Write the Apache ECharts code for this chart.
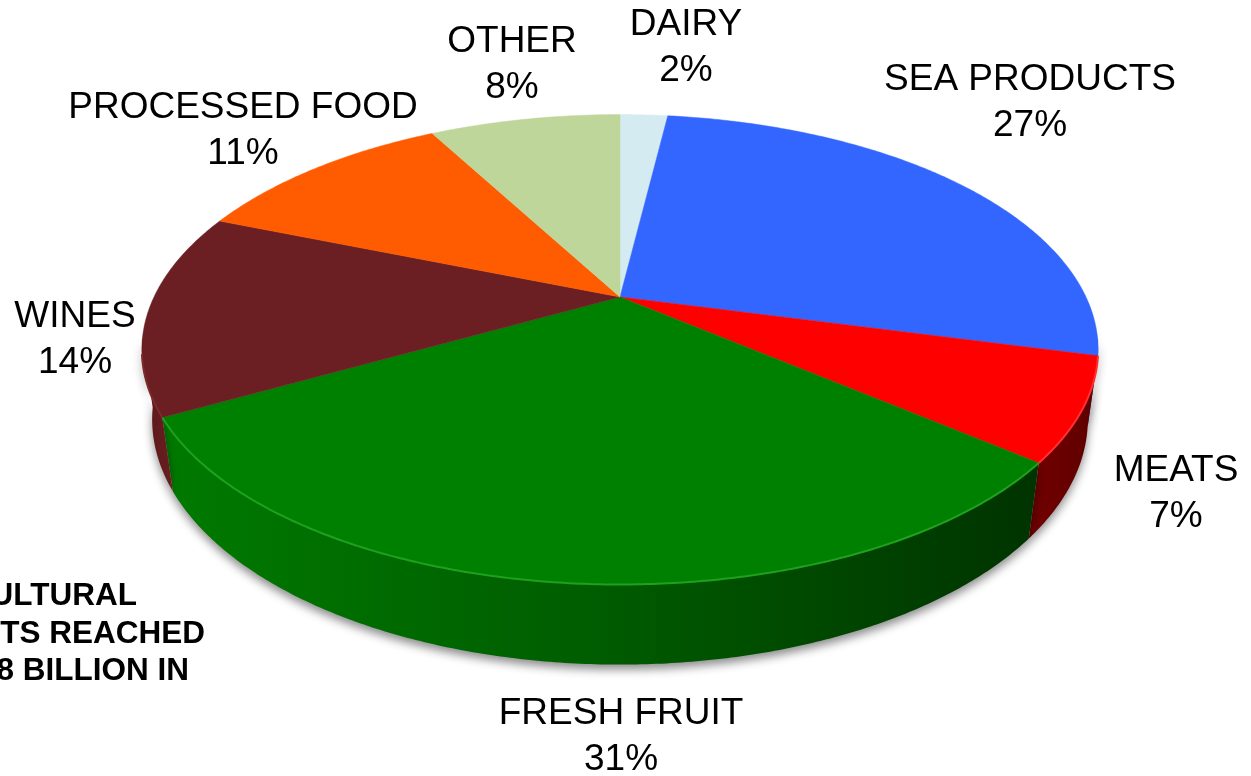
<!DOCTYPE html>
<html>
<head>
<meta charset="utf-8">
<script src="https://cdn.jsdelivr.net/npm/echarts@6/dist/echarts.min.js"></script>
<style>
  html, body { margin: 0; padding: 0; background: #ffffff; }
  #chart { width: 1251px; height: 776px; }
</style>
</head>
<body>
<div id="chart"></div>
<script>
// Export shares by product group (percent)
const categories = ['DAIRY', 'SEA PRODUCTS', 'MEATS', 'FRESH FRUIT', 'WINES', 'PROCESSED FOOD', 'OTHER'];
const shares = [2, 27, 7, 31, 14, 11, 8];

// Slice colours: top face, outer wall, rim highlight
const topColors = ['#d4ecf1', '#3366ff', '#ff0000', '#008000', '#6b1f22', '#ff5b00', '#bfd69b'];
const wallColors = [
  '#9fc0c6', '#1f3fa8',
  ['#720000', '#5e0000'],
  ['#007a00', '#005c00', '#003300'],
  ['#5a1719', '#6a1e21'],
  '#b33f00', '#8fa070'
];
const rimColors = [null, null, '#ff3030', '#1fa01f', '#7d2a2d', null, null];

// Label placement (centre of the two-line block) and the side note
const labelCenters = [[686, 48], [1030, 103], [1176, 494], [621, 737], [75, 340], [243, 131], [512, 65]];
const noteLines = ['AGRICULTURAL', 'EXPORTS REACHED', 'US$ 13.8 BILLION IN'];
const noteRightEdges = [137, 205, 189];
const noteBaselines = [596, 634, 671];

// Perspective view of a flat cylinder (unit camera distance)
const view = {
  cx: 620, cy: 297,       // projected pie centre
  F: 1829.6,              // focal length in px
  R: 0.2547,              // disc radius
  phi: Math.asin(0.479),  // camera elevation
  h: 0.0435               // disc thickness
};
const sinP = Math.sin(view.phi), cosP = Math.cos(view.phi);

function project(theta, Y, rf) {
  const r = view.R * (rf || 1);
  const X = r * Math.sin(theta);
  const Z = r * Math.cos(theta);
  const depth = 1 - Y * sinP + Z * cosP;
  const up = Y * cosP + Z * sinP;
  return [view.cx + view.F * X / depth, view.cy - view.F * up / depth];
}

function arcPoints(a0, a1, Y) {
  const pts = [];
  const n = Math.max(2, Math.ceil((a1 - a0) / (Math.PI / 360)));
  for (let k = 0; k <= n; k++) pts.push(project(a0 + (a1 - a0) * k / n, Y));
  return pts;
}

const total = shares.reduce((s, v) => s + v, 0);
const starts = [];
let acc = 0;
shares.forEach(v => { starts.push(acc / total * Math.PI * 2); acc += v; });

const deg = Math.PI / 180;
const wallFrom = 100 * deg, wallTo = 260 * deg;

function wallFill(i, pts) {
  const c = wallColors[i];
  if (!Array.isArray(c)) return c;
  let xmin = Infinity, xmax = -Infinity;
  pts.forEach(p => { xmin = Math.min(xmin, p[0]); xmax = Math.max(xmax, p[0]); });
  return {
    type: 'linear', x: xmin, y: 0, x2: xmax, y2: 0, global: true,
    colorStops: c.map((col, k) => ({ offset: k / (c.length - 1), color: col }))
  };
}

function renderSlice(params, api) {
  const i = params.dataIndex;
  const value = api.value(1);
  const a0 = starts[i];
  const a1 = a0 + value / total * Math.PI * 2;
  const children = [];

  // outer wall on the front half
  const w0 = Math.max(a0, wallFrom), w1 = Math.min(a1, wallTo);
  if (w1 > w0) {
    const topArc = arcPoints(w0, w1, 0);
    const botArc = arcPoints(w0, w1, -view.h).reverse();
    const pts = topArc.concat(botArc);
    children.push({
      type: 'polygon', z2: 1,
      shape: { points: pts },
      style: {
        fill: wallFill(i, pts),
        shadowBlur: 10, shadowOffsetY: 5, shadowColor: 'rgba(0,0,0,0.45)'
      }
    });
    if (rimColors[i]) {
      children.push({
        type: 'polyline', z2: 12,
        shape: { points: arcPoints(Math.max(w0, 104 * deg), Math.min(w1, 256 * deg), 0) },
        style: { stroke: rimColors[i], lineWidth: 2, fill: null }
      });
    }
  }

  // top face
  const topPts = [[view.cx, view.cy]].concat(arcPoints(a0, a1, 0));
  children.push({
    type: 'polygon', z2: 10,
    shape: { points: topPts },
    style: { fill: topColors[i], stroke: topColors[i], lineWidth: 0.5 }
  });

  // category label
  const c = labelCenters[i];
  children.push({
    type: 'text', z2: 20, x: c[0], y: c[1],
    style: {
      text: categories[i] + '\n' + value + '%',
      fill: '#000000',
      fontSize: 37,
      fontFamily: '"Liberation Sans", Arial, sans-serif',
      align: 'center', verticalAlign: 'middle', lineHeight: 46
    }
  });

  return { type: 'group', children };
}

const chart = echarts.init(document.getElementById('chart'), null, { renderer: 'canvas' });
chart.setOption({
  animation: false,
  backgroundColor: '#ffffff',
  series: [{
    type: 'custom',
    coordinateSystem: 'none',
    silent: true,
    renderItem: renderSlice,
    data: shares.map((v, i) => [i, v])
  }],
  graphic: noteLines.map((t, k) => ({
    type: 'text',
    x: noteRightEdges[k], y: noteBaselines[k],
    silent: true,
    style: {
      text: t, fill: '#000000',
      fontSize: 31.5, fontWeight: 'bold',
      fontFamily: '"Liberation Sans", Arial, sans-serif',
      align: 'right', verticalAlign: 'middle'
    }
  }))
});
</script>
</body>
</html>
